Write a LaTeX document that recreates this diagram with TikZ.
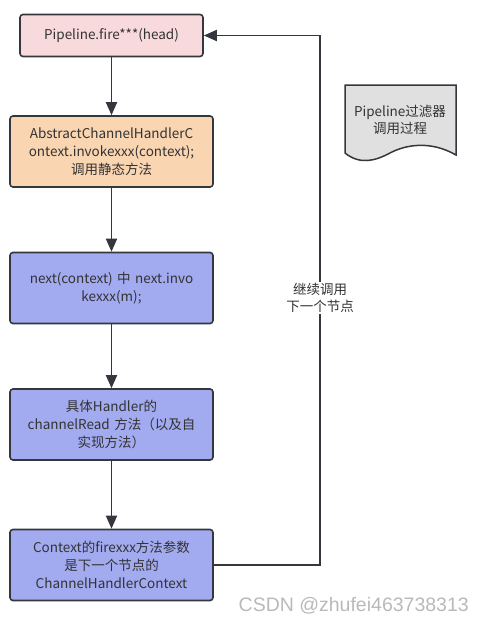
\documentclass[tikz,border=0pt]{standalone}
\usepackage{fontspec}
\setmainfont{Noto Sans CJK SC}
\usetikzlibrary{arrows.meta}
\definecolor{pinkfill}{RGB}{249,218,220}
\definecolor{orangefill}{RGB}{250,213,178}
\definecolor{bluefill}{RGB}{162,170,240}
\definecolor{docfill}{RGB}{224,224,224}
\definecolor{edge}{RGB}{52,56,62}
\definecolor{txt}{RGB}{51,51,51}
\definecolor{wm}{RGB}{185,185,185}
\tikzset{
  box/.style={draw=edge, line width=1.6pt, rounded corners=3pt, align=center,
    text=txt, font=\fontsize{13.5}{18}\selectfont, inner sep=2pt,
    minimum width=203pt, minimum height=71pt, text width=199pt},
  conn/.style={draw=edge, line width=1.8pt, -{Triangle[length=13pt,width=11pt]}},
  lbl/.style={fill=white, text=txt, align=center, font=\fontsize{13.5}{17}\selectfont, inner sep=1pt}
}
\begin{document}
\begin{tikzpicture}[x=1pt,y=-1pt]
\useasboundingbox (0,0) rectangle (485,621);
\node[box, fill=pinkfill, minimum width=183pt, minimum height=42pt, text width=179pt] (b1) at (111.5,35.5) {Pipeline.fire***(head)};
\node[box, fill=orangefill] (b2) at (111.5,151.5) {AbstractChannelHandlerC\\ontext.invokexxx(context);\\调用静态方法};
\node[box, fill=bluefill] (b3) at (111.5,288) {next(context) 中 next.invo\\kexxx(m);};
\node[box, fill=bluefill] (b4) at (111.5,424.5) {具体Handler的\\channelRead 方法（以及自\\实现方法）};
\node[box, fill=bluefill] (b5) at (111.5,565) {Context的firexxx方法参数\\是下一个节点的\\ChannelHandlerContext};
\draw[conn] (b1) -- (b2);
\draw[conn] (b2) -- (b3);
\draw[conn] (b3) -- (b4);
\draw[conn] (b4) -- (b5);
\coordinate (c1) at (320,565);
\coordinate (c2) at (320,35.5);
\draw[conn] (b5.east) -- (c1) -- (c2) -- (b1.east);
\node[lbl] (l1) at (320,298) {继续调用\\下一个节点};
\draw[draw=edge, line width=1.5pt, fill=docfill] (345,85) -- (456,85) -- (456,155)
  .. controls (430,140) and (405,145) .. (390,153)
  .. controls (375,161) and (360,165) .. (345,153) -- cycle;
\node[text=txt, align=center, font=\fontsize{13.5}{17}\selectfont] (doc) at (400,120) {Pipeline过滤器\\调用过程};
\node[text=wm, anchor=base east, font=\fontsize{19.5}{22}\selectfont, inner sep=0pt] (wmk) at (469,611) {\fontspec{Liberation Sans}CSDN @zhufei463738313};
\end{tikzpicture}
\end{document}
